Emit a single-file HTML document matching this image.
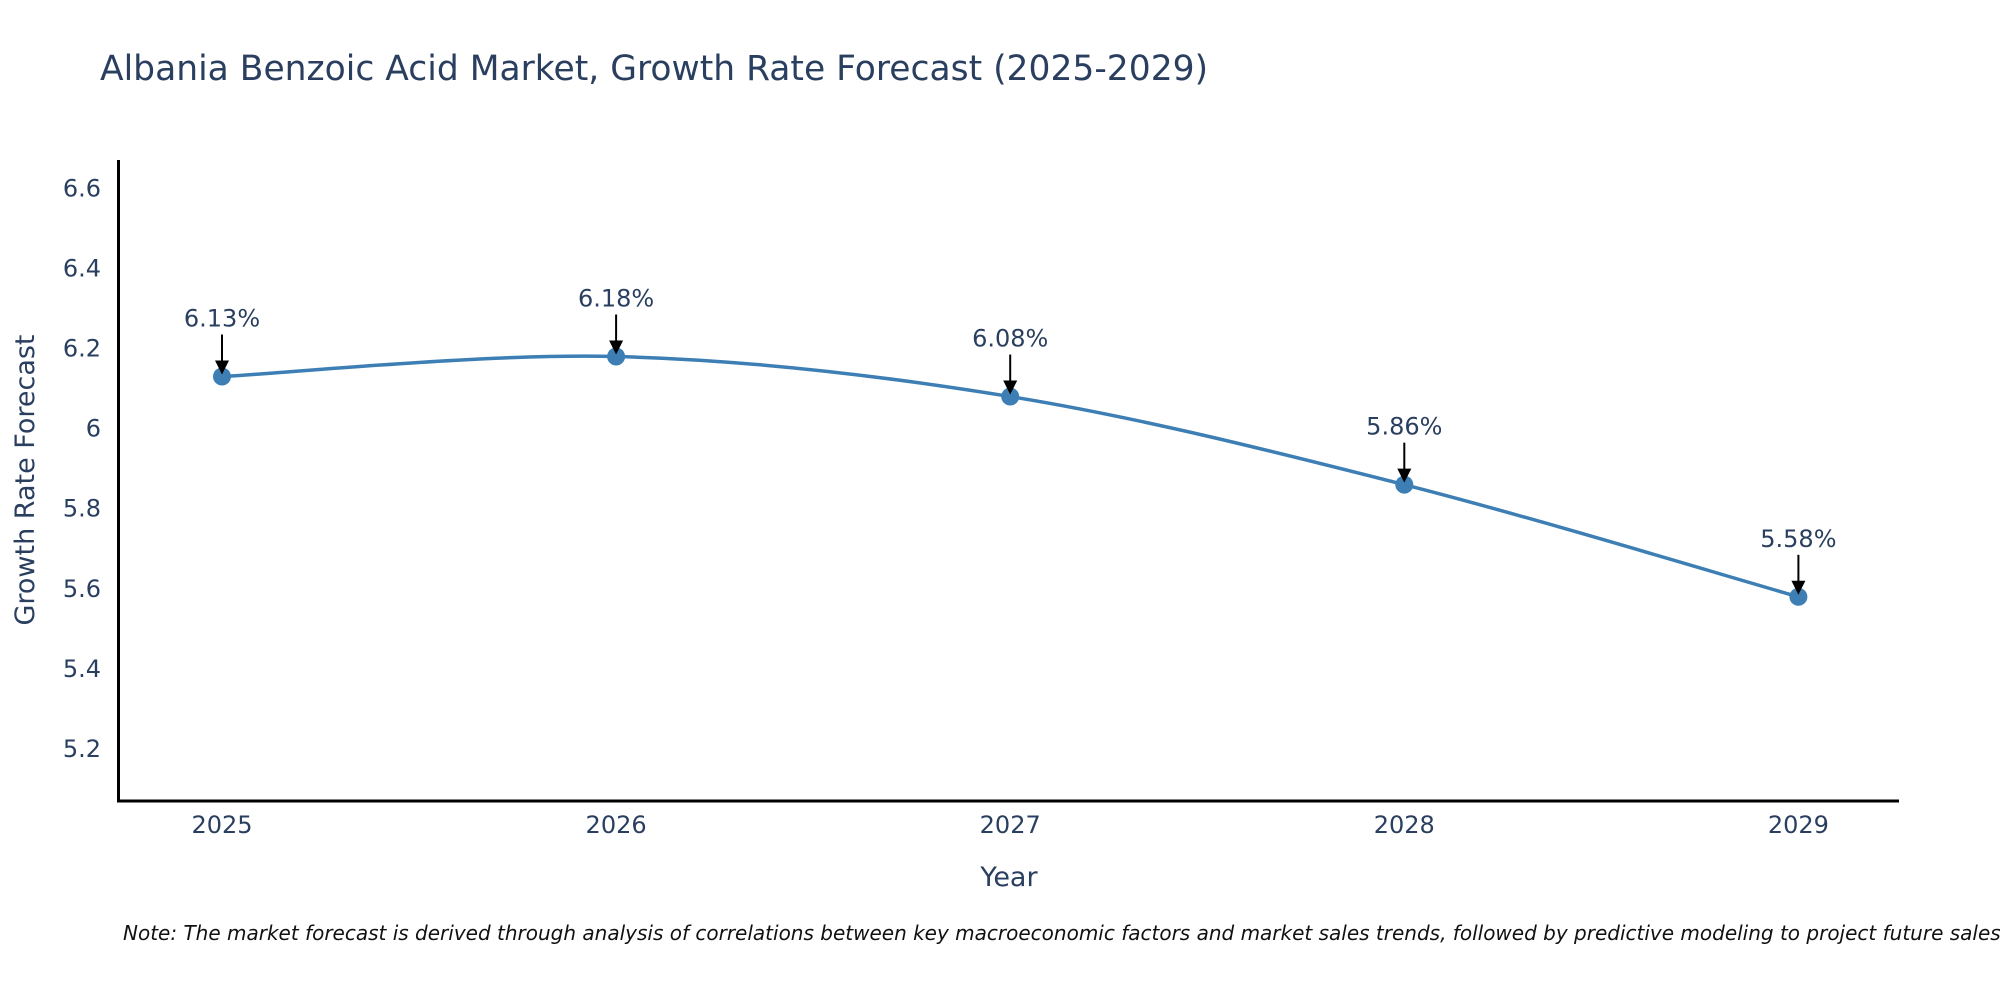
<!DOCTYPE html>
<html><head><meta charset="utf-8"><style>
html,body{margin:0;padding:0;background:#fff;overflow:hidden;}
svg{display:block;font-family:"DejaVu Sans","Liberation Sans",sans-serif;}
</style></head><body>
<svg id="chart" width="2000" height="1000" viewBox="0 0 2000 1000">
<text x="100" y="80" font-size="34.5" fill="#2a3f5f">Albania Benzoic Acid Market, Growth Rate Forecast (2025-2029)</text>
<g id="yticks"></g>
<g id="xticks"></g>
<line x1="118.5" y1="160" x2="118.5" y2="802" stroke="#000" stroke-width="3"/>
<line x1="117" y1="801" x2="1899" y2="801" stroke="#000" stroke-width="3"/>
<text transform="translate(34,480) rotate(-90)" text-anchor="middle" font-size="27" fill="#2a3f5f">Growth Rate Forecast</text>
<text x="1009" y="886" text-anchor="middle" font-size="27" fill="#2a3f5f">Year</text>
<g id="series"></g>
<text x="123" y="940" font-size="20" font-style="italic" fill="#111">Note: The market forecast is derived through analysis of correlations between key macroeconomic factors and market sales trends, followed by predictive modeling to project future sales.</text>
</svg>
<script>
const years = [2025, 2026, 2027, 2028, 2029];
const rates = [6.13, 6.18, 6.08, 5.86, 5.58];
const yTicks = [5.2, 5.4, 5.6, 5.8, 6.0, 6.2, 6.4, 6.6];
const yTickLabels = ["5.2", "5.4", "5.6", "5.8", "6", "6.2", "6.4", "6.6"];

const NS = "http://www.w3.org/2000/svg";
function xs(yr){ return 222 + (yr - 2025) * 394.1; }
function ys(v){ return 428.6 - (v - 6.0) * 400.5; }
function mk(tag, attrs, parent){
  const e = document.createElementNS(NS, tag);
  for (const k in attrs) e.setAttribute(k, attrs[k]);
  parent.appendChild(e); return e;
}
const yg = document.getElementById('yticks');
yTicks.forEach((t, i) => {
  const el = mk('text', {x: 101, y: ys(t) + 8, 'text-anchor': 'end', 'font-size': 24, fill: '#2a3f5f'}, yg);
  el.textContent = yTickLabels[i];
  
  
});
const xg = document.getElementById('xticks');
years.forEach(yr => {
  const el = mk('text', {x: xs(yr), y: 833, 'text-anchor': 'middle', 'font-size': 24, fill: '#2a3f5f'}, xg);
  el.textContent = String(yr);
  
  
});
const sg = document.getElementById('series');
const pts = years.map((yr, i) => [xs(yr), ys(rates[i])]);
let d = 'M' + pts[0][0] + ',' + pts[0][1];
const tension = 0.5;
for (let i = 0; i < pts.length - 1; i++) {
  const p0 = pts[Math.max(0, i - 1)], p1 = pts[i], p2 = pts[i + 1], p3 = pts[Math.min(pts.length - 1, i + 2)];
  const c1x = p1[0] + (p2[0] - p0[0]) * tension / 3, c1y = p1[1] + (p2[1] - p0[1]) * tension / 3;
  const c2x = p2[0] - (p3[0] - p1[0]) * tension / 3, c2y = p2[1] - (p3[1] - p1[1]) * tension / 3;
  d += ' C' + c1x + ',' + c1y + ' ' + c2x + ',' + c2y + ' ' + p2[0] + ',' + p2[1];
}
const line = mk('path', {d: d, fill: 'none', stroke: '#3d7fb4', 'stroke-width': 3.5}, sg);


pts.forEach((p, i) => {
  const c = mk('circle', {cx: p[0], cy: p[1], r: 9, fill: '#3d7fb4'}, sg);
  
  
  const a = mk('line', {x1: p[0], y1: p[1] - 42, x2: p[0], y2: p[1] - 14, stroke: '#000', 'stroke-width': 2}, sg);
  
  
  const h = mk('polygon', {points: (p[0]-7)+','+(p[1]-16)+' '+(p[0]+7)+','+(p[1]-16)+' '+p[0]+','+(p[1]-2), fill: '#000'}, sg);
  
  
  const t = mk('text', {x: p[0], y: p[1] - 50, 'text-anchor': 'middle', 'font-size': 24, fill: '#2a3f5f'}, sg);
  t.textContent = rates[i].toFixed(2) + '%';
  
  
});
</script>
</body></html>
